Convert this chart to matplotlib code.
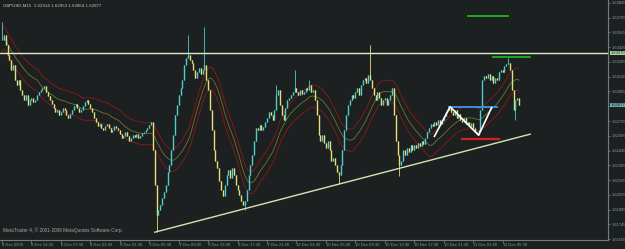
import numpy as np
import pandas as pd
import matplotlib
matplotlib.use("Agg")
import matplotlib.pyplot as plt

plt.rcParams['font.family'] = ['Liberation Sans', 'DejaVu Sans']

# GBPUSD M15 closes, one row = 16 bars = 4 hours
closes = [
    1.6349, 1.6354, 1.6345, 1.6335, 1.6330, 1.6321, 1.6326, 1.6311, 1.6307, 1.6311, 1.6302, 1.6297, 1.6292, 1.6297, 1.6288, 1.6292,
    1.6294, 1.6291, 1.6292, 1.6297, 1.6300, 1.6302, 1.6304, 1.6306, 1.6300, 1.6296, 1.6292, 1.6289, 1.6285, 1.6281, 1.6283, 1.6278,
    1.6281, 1.6285, 1.6283, 1.6278, 1.6275, 1.6279, 1.6283, 1.6287, 1.6289, 1.6285, 1.6281, 1.6283, 1.6287, 1.6291, 1.6292, 1.6289,
    1.6285, 1.6281, 1.6275, 1.6272, 1.6268, 1.6270, 1.6266, 1.6264, 1.6268, 1.6270, 1.6266, 1.6262, 1.6264, 1.6268, 1.6266, 1.6264,
    1.6260, 1.6256, 1.6258, 1.6262, 1.6258, 1.6254, 1.6256, 1.6259, 1.6257, 1.6260, 1.6256, 1.6258, 1.6261, 1.6262, 1.6264, 1.6266,
    1.6269, 1.6272, 1.6245, 1.6212, 1.6183, 1.6188, 1.6193, 1.6199, 1.6205, 1.6212, 1.6224, 1.6231, 1.6245, 1.6259, 1.6278, 1.6288,
    1.6297, 1.6304, 1.6311, 1.6326, 1.6332, 1.6335, 1.6330, 1.6328, 1.6321, 1.6313, 1.6319, 1.6323, 1.6317, 1.6321, 1.6326, 1.6311,
    1.6302, 1.6283, 1.6264, 1.6245, 1.6235, 1.6228, 1.6216, 1.6207, 1.6201, 1.6212, 1.6221, 1.6226, 1.6218, 1.6228, 1.6221, 1.6212,
    1.6207, 1.6202, 1.6197, 1.6193, 1.6197, 1.6207, 1.6221, 1.6231, 1.6240, 1.6254, 1.6266, 1.6264, 1.6269, 1.6264, 1.6267, 1.6272,
    1.6275, 1.6281, 1.6278, 1.6273, 1.6283, 1.6297, 1.6302, 1.6288, 1.6278, 1.6273, 1.6285, 1.6292, 1.6294, 1.6297, 1.6300, 1.6304,
    1.6300, 1.6297, 1.6302, 1.6298, 1.6300, 1.6304, 1.6302, 1.6307, 1.6300, 1.6302, 1.6292, 1.6278, 1.6259, 1.6254, 1.6259, 1.6252,
    1.6247, 1.6254, 1.6245, 1.6235, 1.6237, 1.6231, 1.6224, 1.6221, 1.6231, 1.6245, 1.6264, 1.6278, 1.6288, 1.6292, 1.6297, 1.6294,
    1.6300, 1.6304, 1.6297, 1.6307, 1.6311, 1.6313, 1.6309, 1.6316, 1.6311, 1.6304, 1.6297, 1.6292, 1.6300, 1.6294, 1.6288, 1.6292,
    1.6294, 1.6288, 1.6292, 1.6297, 1.6304, 1.6278, 1.6254, 1.6240, 1.6231, 1.6235, 1.6245, 1.6240, 1.6247, 1.6243, 1.6250, 1.6245,
    1.6250, 1.6247, 1.6252, 1.6249, 1.6254, 1.6251, 1.6256, 1.6262, 1.6266, 1.6270, 1.6268, 1.6272, 1.6269, 1.6273, 1.6270, 1.6273,
    1.6277, 1.6281, 1.6283, 1.6285, 1.6281, 1.6278, 1.6283, 1.6275, 1.6279, 1.6273, 1.6272, 1.6275, 1.6270, 1.6272, 1.6268, 1.6271,
    1.6266, 1.6262, 1.6260, 1.6264, 1.6283, 1.6311, 1.6315, 1.6313, 1.6317, 1.6311, 1.6315, 1.6309, 1.6313, 1.6311, 1.6319, 1.6321,
    1.6319, 1.6325, 1.6327, 1.6328, 1.6321, 1.6302, 1.6283, 1.6292, 1.6294, 1.6288,
]

# wick extremes of the bars with visible spikes (bar index -> price)
spike_high = {0: 1.6366, 101: 1.6354, 110: 1.6362, 149: 1.6307, 159: 1.6321,
              167: 1.6311, 200: 1.6345, 275: 1.6332}
spike_low = {84: 1.6167, 132: 1.6188, 183: 1.6213, 216: 1.6220, 279: 1.6273}

time_labels = ["8 Dec 2009", "8 Dec 13:30", "8 Dec 17:30", "8 Dec 21:30",
               "9 Dec 01:30", "9 Dec 05:30", "9 Dec 09:30", "9 Dec 13:30",
               "9 Dec 17:30", "9 Dec 21:30", "10 Dec 01:30", "10 Dec 05:30",
               "10 Dec 09:30", "10 Dec 13:30", "10 Dec 17:30", "10 Dec 21:30",
               "11 Dec 01:30", "11 Dec 05:30"]
price_ticks = [1.63845, 1.63705, 1.63565, 1.63425, 1.63285, 1.63145, 1.63005,
               1.62865, 1.62725, 1.62585, 1.62445, 1.62305, 1.62165, 1.62025,
               1.61885, 1.61745, 1.61605]

header = "GBPUSD,M15  1.62914 1.62953 1.62864 1.62877"
last_price = 1.62877
resistance = 1.63370

# drawn objects
trend_line = [(83, 1.6167), (287, 1.6260)]
green_top = (253, 275, 1.6372)
green_mid = (267, 287, 1.6333)
blue_line = (243, 269, 1.6286)
red_line = (250, 270, 1.6255)
zigzag_bars = [235, 243.5, 259, 266]
zigzag_prices = [1.6258, 1.6286, 1.6259, 1.6285]

bg = "#1c2020"
fg = "#8c9c99"
axis_col = "#6f7f7c"
up_col = "#50cccc"
dn_col = "#e6de78"

c = np.array(closes)
o = np.r_[c[0], c[:-1]]
hi = np.maximum(o, c)
lo = np.minimum(o, c)
for k, v in spike_high.items():
    hi[k] = v
for k, v in spike_low.items():
    lo[k] = v
idx = np.arange(len(c))

ma = pd.Series(c).rolling(20, min_periods=1).mean().values
env = 0.00065

fig = plt.figure(figsize=(6.25, 2.49), dpi=100, facecolor=bg)
ax = fig.add_axes([0, 9 / 249, 608 / 625, 240 / 249], facecolor=bg)

ax.plot(idx, ma * (1 + env), color="#8e1a1a", lw=0.6)
ax.plot(idx, ma, color="#76742a", lw=0.6)
ax.plot(idx, ma * (1 - env), color="#8e1a1a", lw=0.6)

cols = np.where(c >= o, up_col, dn_col)
ax.vlines(idx, lo, hi, colors=cols, lw=0.6)
ax.vlines(idx, np.minimum(o, c), np.maximum(o, c), colors=cols, lw=1.0)

ax.axhline(resistance, color="#d8f0c8", lw=1.0)
ax.plot([p[0] for p in trend_line], [p[1] for p in trend_line], color="#cfe8b0", lw=1.0)
ax.plot(green_top[:2], [green_top[2]] * 2, color="#22c022", lw=1.2)
ax.plot(green_mid[:2], [green_mid[2]] * 2, color="#22c022", lw=1.2)
ax.plot(blue_line[:2], [blue_line[2]] * 2, color="#3a8fd8", lw=1.4)
ax.plot(red_line[:2], [red_line[2]] * 2, color="#d42020", lw=1.6)
ax.plot(zigzag_bars, zigzag_prices, color="white", lw=1.2)

ax.set_xlim(-1.09, 329.3)
ax.set_ylim(1.61596, 1.63873)

for s in ["left", "top"]:
    ax.spines[s].set_visible(False)
for s in ["right", "bottom"]:
    ax.spines[s].set_color(axis_col)
    ax.spines[s].set_linewidth(0.8)

# the tick label under the current-price tag is covered in MT4
ax.yaxis.tick_right()
ax.set_yticks(price_ticks)
ax.set_yticklabels(["" if abs(p - last_price) < 0.0003 else "%.5f" % p
                    for p in price_ticks])
ax.tick_params(axis="y", colors=axis_col, labelcolor=fg, labelsize=3.0,
               length=1.5, width=0.6, pad=1.0)
ax.set_xticks(np.arange(len(time_labels)) * 16)
ax.set_xticklabels(time_labels, ha="left")
ax.tick_params(axis="x", colors=axis_col, labelcolor=fg, labelsize=3.0,
               length=2, width=0.6, pad=0.3)

# price tags on the right scale
for p, fc in [(resistance, "#a8d8a0"), (last_price, "#6aa8b8")]:
    ax.text(1.004, p, "%.5f" % p, transform=ax.get_yaxis_transform(),
            ha="left", va="center", fontsize=3.0, color="#1c2020",
            bbox=dict(boxstyle="square,pad=0.1", fc=fc, ec="none"),
            zorder=10, clip_on=False)

ax.text(0.005, 0.985, header, transform=ax.transAxes, ha="left", va="top",
        fontsize=3.2, color="#c0c8c4")
ax.text(0.005, 0.03, "MetaTrader 4, \u00a9 2001-2009 MetaQuotes Software Corp.",
        transform=ax.transAxes, ha="left", va="bottom", fontsize=3.4, color="#a0aca8")

fig.savefig("out.png", dpi=100, facecolor=bg)
